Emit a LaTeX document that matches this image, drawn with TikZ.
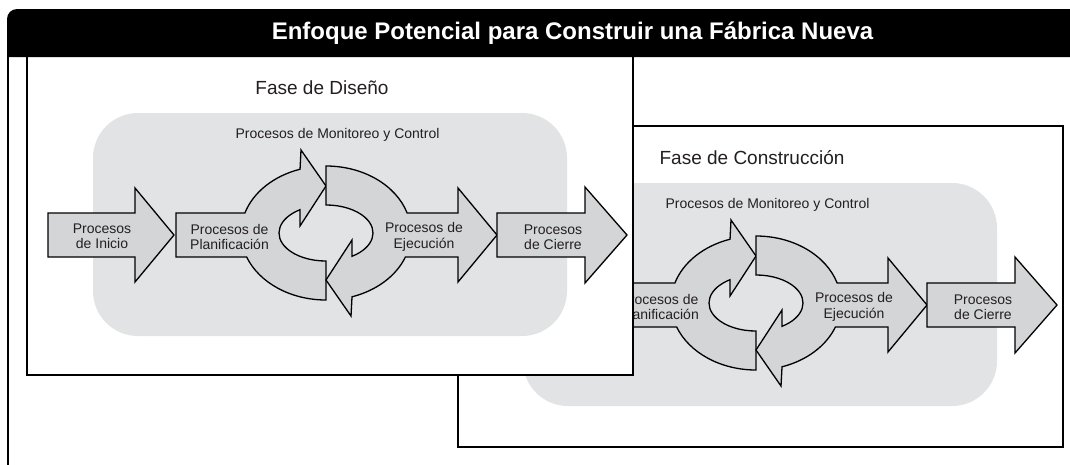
\documentclass[tikz,border=0pt]{standalone}
\usepackage{fontspec}
\setmainfont{Liberation Sans}
\definecolor{panelgray}{HTML}{E2E3E4}
\definecolor{arrowgray}{HTML}{D4D5D7}
\definecolor{txt}{HTML}{231F20}
\tikzset{
  procarrow/.style={fill=arrowgray, draw=black, line width=1.3pt, line join=miter, miter limit=4},
  lbl/.style={font=\fontsize{14}{15.5}\selectfont, align=center, text=txt, inner sep=0pt},
  phase/.style={font=\fontsize{19}{22}\selectfont, text=txt, inner sep=0pt},
  panel/.style={fill=panelgray, rounded corners=45pt},
  phasebox/.style={draw=black, fill=white, line width=2pt},
}
\newcommand\procgroup[1]{%
  \fill[panel] (93,113) rectangle (567,336);
  % Planificacion (left C-shape with arrowhead on top)
  \path[procarrow] (176,213) -- (244.9,213)
    arc[start angle=197.37, end angle=252.2, x radius=85, y radius=67]
    -- (301,150) -- (326,186) -- (300,226) -- (300,209.7)
    arc[start angle=236.4, end angle=90, x radius=47, y radius=28]
    -- (326,300)
    arc[start angle=90, end angle=159.01, x radius=85, y radius=67]
    -- (176,257) -- cycle;
  % Ejecucion (right C-shape with arrowhead at bottom and shaft)
  \path[procarrow] (326,166)
    arc[start angle=270, end angle=342.63, x radius=85, y radius=67]
    -- (458,213) -- (458,188) -- (497,235) -- (458,282) -- (458,257) -- (405.4,257)
    arc[start angle=20.99, end angle=72.2, x radius=85, y radius=67]
    -- (351,316) -- (326,280) -- (352,240) -- (352,256.3)
    arc[start angle=56.4, end angle=-90, x radius=47, y radius=28]
    -- cycle;
  % Cierre
  \path[procarrow] (497,213) -- (585,213) -- (585,187) -- (627,235) -- (585,283) -- (585,257) -- (497,257) -- cycle;
  \node[lbl] (#1-mon) at (337.5,135) {Procesos de Monitoreo y Control};
  \node[lbl] (#1-plan) at (229.5,237) {Procesos de\\Planificación};
  \node[lbl] (#1-ejec) at (424,237) {Procesos de\\Ejecución};
  \node[lbl] (#1-cierre) at (553,237) {Procesos\\de Cierre};
}
\begin{document}
\begin{tikzpicture}[x=1pt,y=-1pt]
  \useasboundingbox (0,0) rectangle (1070,464);
  \clip (0,0) rectangle (1070,464);
  % outer frame left line
  \draw[line width=2.2pt] (8,50) -- (8,470);
  % Construccion phase
  \draw[phasebox] (458,126) rectangle (1063,447);
  \begin{scope}[shift={(430,70)}]
    \procgroup{c}
    \node[phase] (c-fase) at (322,88) {Fase de Construcción};
  \end{scope}
  % Diseno phase
  \draw[phasebox] (27,45) rectangle (633,375);
  \begin{scope}
    \procgroup{d}
    \node[phase] (d-fase) at (322,88) {Fase de Diseño};
    \path[procarrow] (48,213) -- (135,213) -- (135,188) -- (174,235) -- (135,282) -- (135,257) -- (48,257) -- cycle;
    \node[lbl] (d-inicio) at (102,236) {Procesos\\de Inicio};
  \end{scope}
  % title bar
  \fill[black] (7,57) -- (7,19) arc[start angle=180, end angle=270, radius=10] -- (1080,9) -- (1080,57) -- cycle;
  \node[font=\fontsize{24}{28}\selectfont\bfseries, text=white, inner sep=0pt] (title) at (572.5,33.5) {Enfoque Potencial para Construir una Fábrica Nueva};
\end{tikzpicture}
\end{document}
